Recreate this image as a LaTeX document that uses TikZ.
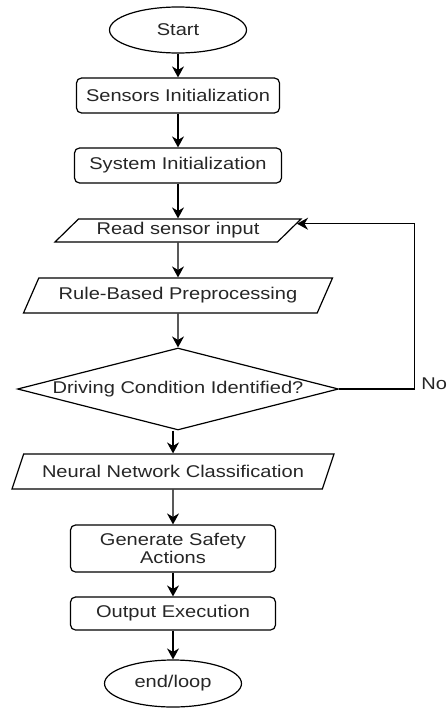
\documentclass[tikz,border=0pt]{standalone}
\usepackage{fontspec}
\setmainfont{Liberation Sans}[FakeStretch=1.18]
\usetikzlibrary{arrows.meta,positioning,shapes.geometric,calc}

\begin{document}
\begin{tikzpicture}[x=1pt,y=-1pt,
    every node/.style={font=\fontsize{17}{18.5}\selectfont,text=black!85,inner sep=0pt},
    terminal/.style={draw,ellipse,line width=1.2pt,minimum width=137pt,minimum height=46pt},
    process/.style={draw,rounded corners=5pt,line width=1.2pt,minimum height=35pt,align=center},
    io/.style={draw,trapezium,trapezium stretches body,line width=1.2pt,minimum height=35pt},
    decision/.style={draw,diamond,aspect=3.9,line width=1.2pt,minimum width=321pt,minimum height=82pt},
    flow/.style={line width=1.2pt,-{Stealth[length=11pt,width=12pt]}}]
  \useasboundingbox (0,0) rectangle (447,709);

  %% Upper part: start, init and input
  \node[terminal] (start) at (178,30) {Start};
  \node[process,minimum width=203pt] (sensors) at (178,95.5) {Sensors Initialization};
  \node[process,minimum width=207pt] (system) at (178,165.5) {System Initialization};
  \node[io,minimum width=246pt,minimum height=23pt,
        trapezium left angle=34,trapezium right angle=146]
        (read) at (178,230.5) {Read sensor input};
  \node[io,minimum width=309pt,
        trapezium left angle=46,trapezium right angle=134]
        (rule) at (178,295.5) {Rule-Based Preprocessing};
  \node[decision] (cond) at (178,389) {Driving Condition Identified?};

  %% Lower part: classification and actions
  \node[io,minimum width=322pt,
        trapezium left angle=47,trapezium right angle=133]
        (neural) at (173,471.5) {Neural Network Classification};
  \node[process,minimum width=205pt,minimum height=47pt]
        (generate) at (173,548.5) {Generate Safety\\Actions};
  \node[process,minimum width=205pt,minimum height=33pt]
        (output) at (173,613.5) {Output Execution};
  \node[terminal,minimum height=47pt] (finish) at (173,683.5) {end/loop};

  %% Arrows
  \draw[flow] (start) -- (sensors);
  \draw[flow] (sensors) -- (system);
  \draw[flow] (system) -- (read);
  \draw[flow] (read) -- (rule);
  \draw[flow] (rule) -- (cond);
  \draw[flow] (cond.south -| neural.north) -- (neural.north);
  \draw[flow] (neural) -- (generate);
  \draw[flow] (generate) -- (output);
  \draw[flow] (output) -- (finish);

  %% "No" branch back to the input
  \coordinate (hook) at ($(read.top right corner)!0.22!(read.bottom right corner)$);
  \draw[flow] (cond.east) -- ++(75,0) coordinate (noturn) |- (hook);
  \node[anchor=west] (no) at ([xshift=7pt,yshift=5pt]noturn) {No};
\end{tikzpicture}
\end{document}
